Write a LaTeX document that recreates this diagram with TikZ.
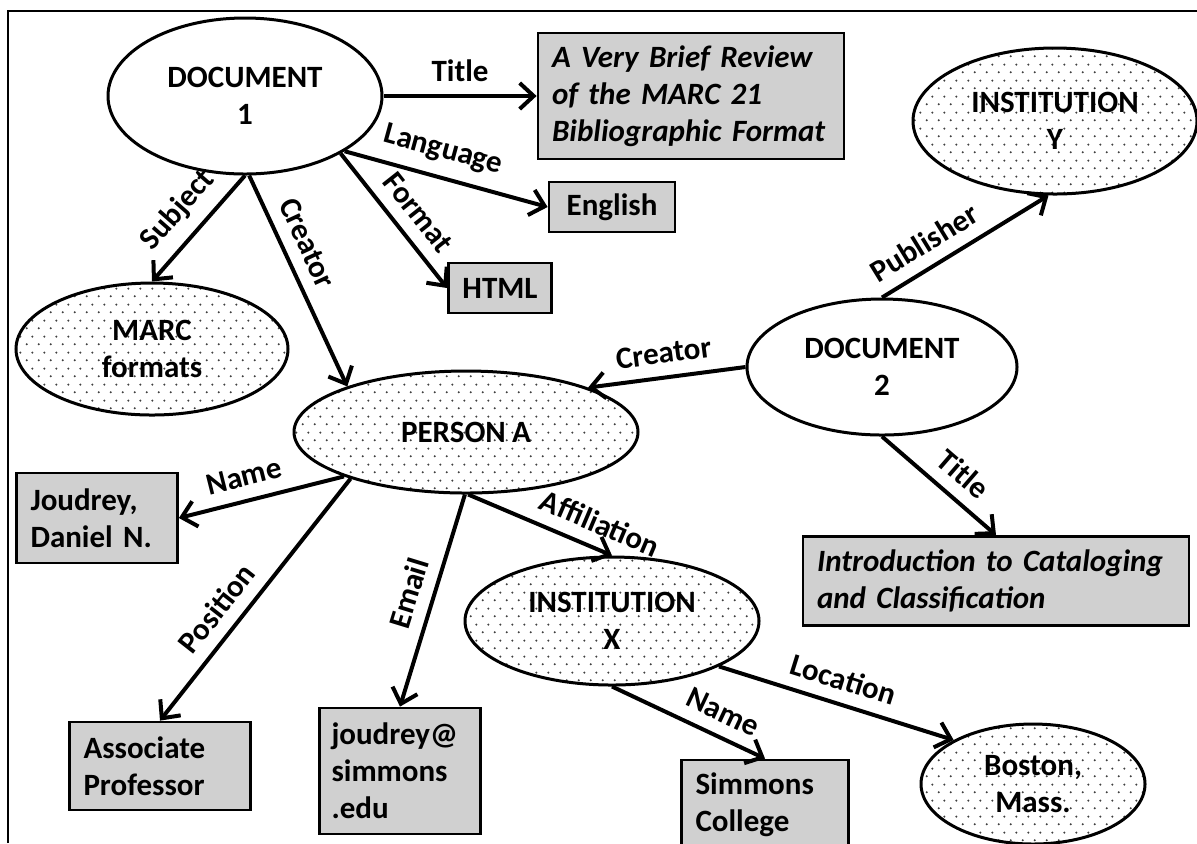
\documentclass[tikz,border=0pt]{standalone}
\usepackage{fontspec}
\setmainfont{Carlito}[WordSpace=0.9]
\usetikzlibrary{shapes.geometric,arrows.meta,patterns}

\definecolor{boxgray}{RGB}{208,208,208}
\newcommand{\lblfont}{\fontsize{15.5}{18.5}\selectfont\bfseries}

% sparse staggered dots for the ellipses
\pgfdeclarepatternformonly{sparse dots}{\pgfpointorigin}{\pgfpoint{6pt}{8pt}}{\pgfpoint{6pt}{8pt}}{%
  \pgfpathcircle{\pgfpoint{1.5pt}{2pt}}{0.6pt}%
  \pgfpathcircle{\pgfpoint{4.5pt}{6pt}}{0.6pt}%
  \pgfusepath{fill}}

\begin{document}
\begin{tikzpicture}[x=0.5pt, y=-0.5pt,
  every node/.style={font=\lblfont},
  res/.style={draw, ellipse, line width=1.5pt, inner sep=0pt, align=center},
  dotres/.style={res, pattern=sparse dots, pattern color=black!75},
  lit/.style={draw, rectangle, line width=1.4pt, fill=boxgray, inner sep=0pt, inner xsep=7pt, align=left},
  rel/.style={line width=2pt, -{Straight Barb[length=7pt, width=13pt, line width=2pt]}},
  lbl/.style={midway, above, sloped, inner sep=6pt}]
\useasboundingbox (0,0) rectangle (1197,843);
\draw[line width=1.4pt] (8,843) -- (8,11) -- (1197,11);

% resources
\node[res, minimum width=137pt, minimum height=78pt] (doc1) at (245,96) {DOCUMENT\\1};
\node[res, minimum width=135pt, minimum height=68pt] (doc2) at (882,367) {DOCUMENT\\2};
\node[dotres, minimum width=136pt, minimum height=66pt] (marc) at (152,349) {MARC\\formats};
\node[dotres, minimum width=172pt, minimum height=61pt] (person) at (466,432) {PERSON A};
\node[dotres, minimum width=142pt, minimum height=73pt] (insty) at (1055,121) {INSTITUTION\\Y};
\node[dotres, minimum width=147pt, minimum height=64pt] (instx) at (612,621) {INSTITUTION\\X};
\node[dotres, minimum width=112pt, minimum height=60pt] (boston) at (1033,784) {Boston,\\Mass.};

% literal values
\node[lit, font=\lblfont\itshape, minimum width=153pt, minimum height=63pt, text width=139pt] (title1) at (691,96) {A Very Brief Review\\of the MARC 21\\Bibliographic Format};
\node[lit, align=center, minimum width=63pt, minimum height=25pt] (english) at (612,207) {English};
\node[lit, align=center, minimum width=50.5pt, minimum height=25pt] (html) at (500,288) {HTML};
\node[lit, font=\lblfont\itshape, minimum width=193pt, minimum height=44.5pt, text width=179pt] (title2) at (996,581) {Introduction to Cataloging\\and Classification};
\node[lit, minimum width=80.5pt, minimum height=45pt, text width=66.5pt] (joudrey) at (97,518) {Joudrey,\\Daniel N.};
\node[lit, minimum width=90.5pt, minimum height=44pt, text width=76.5pt] (associate) at (160,766) {Associate\\Professor};
\node[lit, minimum width=80.5pt, minimum height=63pt, text width=68.5pt, inner xsep=6pt] (email) at (400,771) {joudrey@\\simmons\\.edu};
\node[lit, minimum width=83.5pt, minimum height=45pt, text width=69.5pt] (simmons) at (765,805) {Simmons\\College};

% properties
\draw[rel] (doc1.east) -- node[lbl]{Title} (title1.west);
\draw[rel] (doc1.-29) -- node[lbl, pos=0.45]{Language} (english.west);
\draw[rel] (doc1.-31) -- node[lbl, pos=0.55]{Format} (html.west);
\draw[rel] (doc1.-90) -- node[lbl]{Subject} (marc.north);
\draw[rel] (doc1.-87) -- node[lbl, pos=0.37]{Creator} (person.159);
\draw[rel] (doc2.west) -- node[lbl]{Creator} (person.20);
\draw[rel] (doc2.north) -- node[lbl, pos=0.33]{Publisher} (insty.-95);
\draw[rel] (doc2.south) -- node[lbl, pos=0.57]{Title} (title2.north);
\draw[rel] (person.200) -- node[lbl, pos=0.57]{Name} (joudrey.east);
\draw[rel] (person.202) -- node[lbl, pos=0.6]{Position} (associate.north);
\draw[rel] (person.-91) -- node[lbl]{Email} (email.north);
\draw[rel] (person.-88) -- node[lbl, pos=0.85]{Affiliation} (instx.north);
\draw[rel] (instx.south) -- node[lbl, pos=0.66]{Name} (simmons.north);
\draw[rel] (instx.-23) -- node[lbl]{Location} (boston.151);
\end{tikzpicture}
\end{document}
